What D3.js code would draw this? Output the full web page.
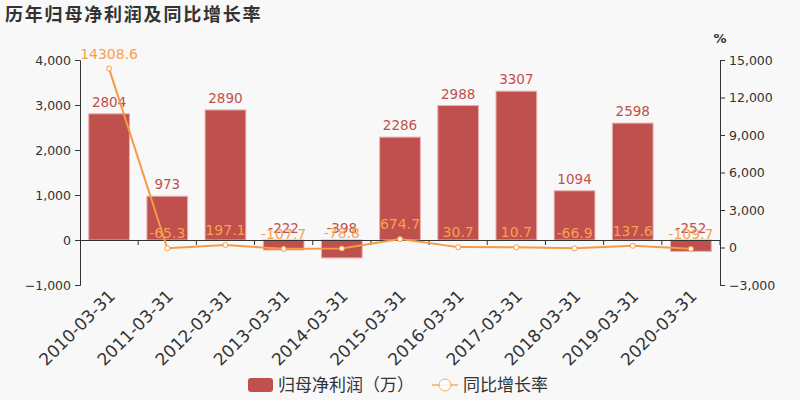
<!DOCTYPE html>
<html><head><meta charset="utf-8">
<script src="https://cdn.jsdelivr.net/npm/d3@7"></script>
<style>body{margin:0;background:#f8f8f8;font-family:"Noto Sans CJK SC","DejaVu Sans",sans-serif;}</style>
</head><body><svg id="c" width="800" height="400"></svg>
<script>
const categories = ["2010-03-31","2011-03-31","2012-03-31","2013-03-31","2014-03-31","2015-03-31","2016-03-31","2017-03-31","2018-03-31","2019-03-31","2020-03-31"];
const profit = [2804, 973, 2890, -222, -398, 2286, 2988, 3307, 1094, 2598, -252];
const growth = [14308.6, -65.3, 197.1, -107.7, -78.8, 674.7, 30.7, 10.7, -66.9, 137.6, -109.7];
const leftTicks = [-1000, 0, 1000, 2000, 3000, 4000];
const rightTicks = [-3000, 0, 3000, 6000, 9000, 12000, 15000];

const svg = d3.select("#c");
svg.append("rect").attr("width",800).attr("height",400).attr("fill","#f8f8f8");
const L=80, R=720, T=60, B=285;
const x = d3.scaleBand().domain(categories).range([L,R]).paddingInner(0.3).paddingOuter(0.15);
const xb = d3.scaleBand().domain(categories).range([L,R]);
const yL = d3.scaleLinear().domain([-1000,4000]).range([B,T]);
const yR = d3.scaleLinear().domain([-3000,15000]).range([B,T]);
const fmt = d3.format(",");
const textCol = "#333";

svg.append("text").attr("x",5).attr("y",21).attr("font-size",18).attr("font-weight","bold")
  .attr("fill",textCol).attr("letter-spacing",1.8).text("历年归母净利润及同比增长率");

// left axis
const gl = svg.append("g").attr("transform",`translate(${L},0)`)
  .call(d3.axisLeft(yL).tickValues(leftTicks).tickFormat(fmt).tickSize(5).tickPadding(4));
gl.selectAll("text").attr("font-size",12.5).attr("fill",textCol).attr("font-family","DejaVu Sans");
gl.selectAll("line,path").attr("stroke",textCol);

// right axis
const gr = svg.append("g").attr("transform",`translate(${R},0)`)
  .call(d3.axisRight(yR).tickValues(rightTicks).tickFormat(fmt).tickSize(5).tickPadding(4));
gr.selectAll("text").attr("font-size",12.5).attr("fill",textCol).attr("font-family","DejaVu Sans");
gr.selectAll("line,path").attr("stroke",textCol);
svg.append("text").attr("x",720).attr("y",43).attr("text-anchor","middle").attr("font-size",13)
  .attr("font-weight","bold").attr("fill",textCol).attr("font-family","DejaVu Sans").text("%");

// bars
const barCol="#c0504d";
svg.append("g").selectAll("rect").data(profit).join("rect")
  .attr("x",(d,i)=>x(categories[i])).attr("width",x.bandwidth())
  .attr("y",d=>yL(Math.max(0,d))).attr("height",d=>Math.abs(yL(d)-yL(0)))
  .attr("fill",barCol).attr("stroke","#e8b0ae").attr("stroke-width",1);

// x axis at zero
const gx = svg.append("g").attr("transform",`translate(0,${yL(0)})`)
  .call(d3.axisBottom(xb).tickSize(5).tickFormat(""));
gx.selectAll(".tick").remove();
gx.select("path").attr("stroke",textCol);
const bounds = categories.map(c=>xb(c)).slice(1).concat([R]);
gx.selectAll("line.b").data(bounds).join("line").attr("class","b")
  .attr("x1",d=>d).attr("x2",d=>d).attr("y1",0).attr("y2",5).attr("stroke",textCol);

// x labels
svg.append("g").selectAll("text").data(categories).join("text")
  .attr("transform",(d)=>`translate(${xb(d)+xb.bandwidth()/2+7},${B+12}) rotate(-45)`)
  .attr("text-anchor","end").attr("font-size",17).attr("fill",textCol)
  .attr("font-family","DejaVu Sans").text(d=>d);

// bar labels
svg.append("g").selectAll("text").data(profit).join("text")
  .attr("x",(d,i)=>x(categories[i])+x.bandwidth()/2).attr("y",d=>yL(Math.max(0,d))-7)
  .attr("text-anchor","middle").attr("font-size",13.5).attr("fill",barCol)
  .attr("font-family","DejaVu Sans").text(d=>d);

// line
const lineCol="#f59a45";
const cx=(i)=>xb(categories[i])+xb.bandwidth()/2;
svg.append("path").datum(growth).attr("fill","none").attr("stroke",lineCol).attr("stroke-width",2)
  .attr("d",d3.line().x((d,i)=>cx(i)).y(d=>yR(d)));
svg.append("g").selectAll("circle").data(growth).join("circle")
  .attr("cx",(d,i)=>cx(i)).attr("cy",d=>yR(d)).attr("r",2.5)
  .attr("fill","#fff").attr("stroke",lineCol).attr("stroke-width",1);
svg.append("g").selectAll("text").data(growth).join("text")
  .attr("x",(d,i)=>cx(i)).attr("y",d=>yR(d)-10)
  .attr("text-anchor","middle").attr("font-size",14).attr("fill","#f7a050")
  .attr("font-family","DejaVu Sans").text(d=>d);

// legend
const lg = svg.append("g");
lg.append("rect").attr("x",248).attr("y",378).attr("width",25).attr("height",14).attr("rx",3).attr("fill",barCol);
lg.append("text").attr("x",278).attr("y",391).attr("font-size",17).attr("fill",textCol).text("归母净利润（万）");
lg.append("line").attr("x1",432).attr("x2",458).attr("y1",385).attr("y2",385).attr("stroke",lineCol).attr("stroke-width",2).attr("opacity",0.6);
lg.append("circle").attr("cx",445).attr("cy",385).attr("r",6).attr("fill","#fff").attr("stroke",lineCol).attr("opacity",0.8);
lg.append("text").attr("x",463).attr("y",391).attr("font-size",17).attr("fill",textCol).text("同比增长率");
</script></body></html>
